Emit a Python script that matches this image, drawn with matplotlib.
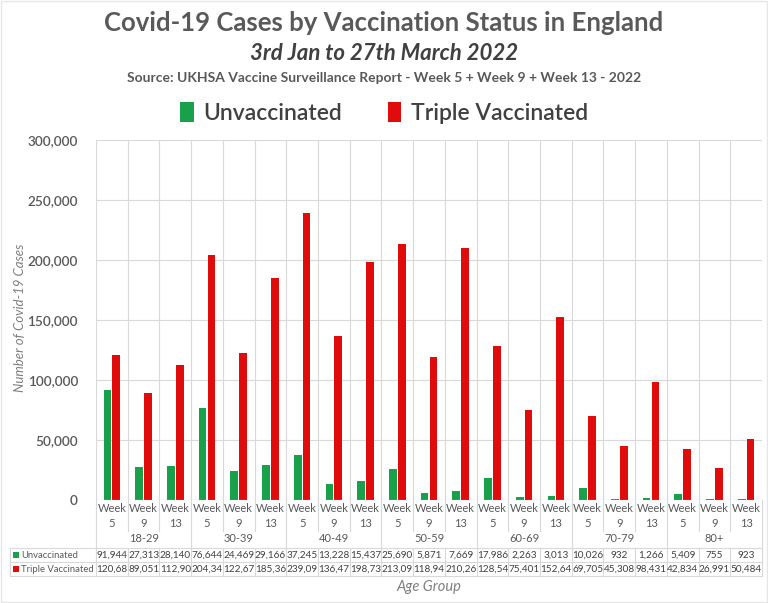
import matplotlib
matplotlib.use("Agg")
import matplotlib.pyplot as plt
import matplotlib.transforms as mtransforms
from matplotlib.lines import Line2D
from matplotlib.patches import Rectangle
import numpy as np

plt.rcParams['font.family'] = ['Lato', 'DejaVu Sans']

# data (triple vaccinated values are clipped in the table)
age_groups = ["18-29", "30-39", "40-49", "50-59", "60-69", "70-79", "80+"]
weeks = ["5", "9", "13"]
unvaccinated = [91944, 27313, 28140, 76644, 24469, 29166, 37245, 13228, 15437,
                25690, 5871, 7669, 17986, 2263, 3013, 10026, 932, 1266,
                5409, 755, 923]
triple_vaccinated = [120684, 89051, 112903, 204341, 122673, 185362, 239094,
                     136475, 198738, 213092, 118941, 210266, 128547, 75401,
                     152642, 69705, 45308, 98431, 42834, 26991, 50484]
y_ticks = [0, 50000, 100000, 150000, 200000, 250000, 300000]

GREEN = "#19a04b"
RED = "#e00c0c"
GRID = "#d9d9d9"
TXT = "#595959"

W, H = 768, 603
fig = plt.figure(figsize=(W / 100, H / 100), dpi=100)
fig.patch.set_facecolor("white")

# plot area in pixels: left 96, right 762, top 140, zero line 500
left, right, top, bottom = 96, 762, 140, 500
ax = fig.add_axes([left / W, (H - bottom) / H, (right - left) / W, (bottom - top) / H])

n = len(unvaccinated)
x = np.arange(n)
b1 = ax.bar(x - 0.14, unvaccinated, width=0.24, color=GREEN, zorder=3)
b2 = ax.bar(x + 0.14, triple_vaccinated, width=0.24, color=RED, zorder=3)

ax.set_xlim(-0.5, n - 0.5)
ax.set_ylim(0, 300000)
ax.set_yticks(y_ticks)
ax.set_yticklabels([f"{v:,}" for v in y_ticks], fontsize=9.8, color=TXT,
                   fontweight="semibold")
ax.set_xticks([])
ax.tick_params(axis="y", length=0, pad=13)
for s in ax.spines.values():
    s.set_visible(False)
ax.yaxis.grid(True, color=GRID, lw=0.8, zorder=0)
for b in np.arange(-0.5, n, 1.0):
    ax.axvline(b, color=GRID, lw=0.8, zorder=0)
ax.axhline(0, color=GRID, lw=0.8, zorder=4)


def ay(py):
    # pixel row of the image -> axes fraction
    return (bottom - py) / (bottom - top)


trans = mtransforms.blended_transform_factory(ax.transData, ax.transAxes)
ftrans = mtransforms.blended_transform_factory(fig.transFigure, ax.transAxes)

# category labels under the axis
for i in range(n):
    ax.text(i, ay(516), "Week\n" + weeks[i % 3], transform=trans, ha="center",
            va="center", fontsize=8, color=TXT, linespacing=1.35)
for g, name in enumerate(age_groups):
    ax.text(g * 3 + 1, ay(539), name, transform=trans, ha="center", va="center",
            fontsize=8, color=TXT)

# table lines
for b in np.arange(-0.5, n, 1.0):
    grp = abs(((b + 0.5) % 3)) < 1e-9
    ax.add_line(Line2D([b, b], [ay(500), ay(548 if grp else 531)], transform=trans,
                       color=GRID, lw=0.8, clip_on=False))
    ax.add_line(Line2D([b, b], [ay(548), ay(576)], transform=trans,
                       color=GRID, lw=0.8, clip_on=False))
for py in (548, 562, 576):
    ax.add_line(Line2D([10 / W, right / W], [ay(py), ay(py)], transform=ftrans,
                       color=GRID, lw=0.8, clip_on=False))
ax.add_line(Line2D([10 / W, 10 / W], [ay(548), ay(576)], transform=ftrans,
                   color=GRID, lw=0.8, clip_on=False))

# data table rows
rows = [("Unvaccinated", GREEN, unvaccinated, 555),
        ("Triple Vaccinated", RED, triple_vaccinated, 569)]
for name, col, vals, py in rows:
    fig.add_artist(Rectangle((13 / W, (H - py - 3) / H), 6 / W, 6 / H,
                             transform=fig.transFigure, color=col, lw=0))
    fig.text(21 / W, (H - py) / H, name, ha="left", va="center", fontsize=6.8,
             color=TXT)
    for i, v in enumerate(vals):
        ax.text(i, ay(py), f"{v:,}"[:6], transform=trans, ha="center",
                va="center", fontsize=7.2, color="#404040")

# axis titles
fig.text((left + right) / 2 / W, (H - 587) / H, "Age Group", ha="center",
         va="center", fontsize=10.5, style="italic", color="#7f7f7f")
fig.text(20 / W, (H - 318) / H, "Number of Covid-19 Cases", ha="center",
         va="center", rotation=90, fontsize=9.5, style="italic", color="#7f7f7f")

# titles
fig.text(0.5, (H - 23) / H, "Covid-19 Cases by Vaccination Status in England",
         ha="center", va="center", fontsize=18.5, fontweight="bold", color=TXT)
fig.text(0.5, (H - 53) / H, "3rd Jan to 27th March 2022", ha="center",
         va="center", fontsize=16, fontweight="bold", style="italic", color="#404040")
fig.text(0.5, (H - 78) / H,
         "Source: UKHSA Vaccine Surveillance Report - Week 5 + Week 9 + Week 13 - 2022",
         ha="center", va="center", fontsize=10, fontweight="bold", color=TXT)

fig.legend([b1, b2], ["Unvaccinated", "Triple Vaccinated"], loc="center",
           bbox_to_anchor=(0.5, (H - 113) / H), ncol=2, frameon=False,
           prop={"size": 16.5, "weight": "semibold"}, handlelength=0.6,
           handleheight=1.0, handletextpad=0.4, columnspacing=2.0,
           labelcolor="#404040")

# faint outer frame
fig.add_artist(Rectangle((0.001, 0.001), 0.998, 0.998, transform=fig.transFigure,
                         fill=False, ec="#e6e6e6", lw=1))

fig.savefig("out.png", dpi=100)
